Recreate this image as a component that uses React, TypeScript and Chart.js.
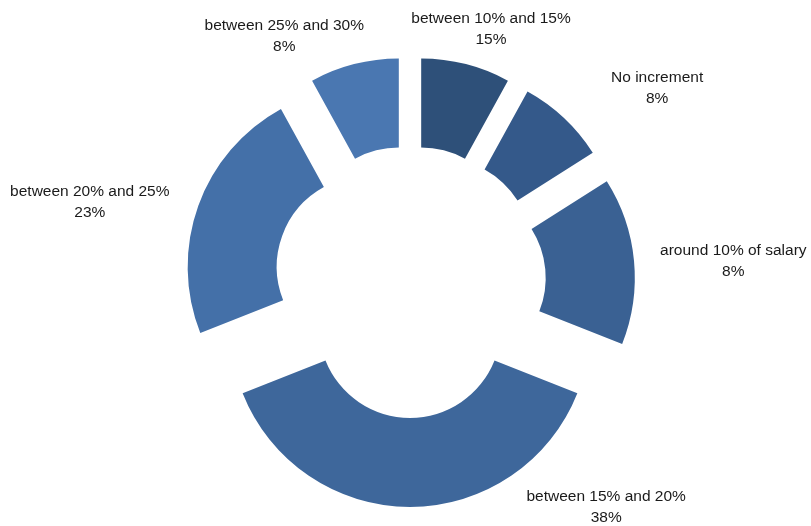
import React, { useEffect, useRef } from "react";
import { Chart, registerables } from "chart.js";

Chart.register(...registerables);

// Categories in clockwise order starting at 12 o'clock
const categories = [
  "between 10% and 15%",
  "No increment",
  "around 10% of salary",
  "between 15% and 20%",
  "between 20% and 25%",
  "between 25% and 30%",
];
// Slice sizes
const sliceValues = [8, 8, 15, 38, 23, 8];
// Percent text shown in each data label
const shownPercents = ["15%", "8%", "8%", "38%", "23%", "8%"];

const colors = ["#2E5079", "#34598A", "#3A6193", "#3E679B", "#4470A8", "#4A77B1"];

// Label anchors (angle clockwise from top in degrees, distance from the chart centre)
const labelPolar: [number, number][] = [
  [17.8, 265],
  [51.9, 314],
  [86.3, 324],
  [139, 299],
  [284, 330],
  [332.9, 276],
];

const EXPLODE = 45;

const explodePlugin = {
  id: "explode",
  beforeDatasetDraw(chart: any, args: any) {
    const ctx = chart.ctx;
    args.meta.data.forEach((arc: any) => {
      const mid = (arc.startAngle + arc.endAngle) / 2;
      ctx.save();
      ctx.translate(Math.cos(mid) * EXPLODE, Math.sin(mid) * EXPLODE);
      arc.draw(ctx);
      ctx.restore();
    });
    return false;
  },
};

const labelPlugin = {
  id: "sliceLabels",
  afterDatasetsDraw(chart: any) {
    const ctx = chart.ctx;
    const arc0 = chart.getDatasetMeta(0).data[0];
    const cx = arc0.x;
    const cy = arc0.y;
    ctx.save();
    ctx.font = '15.5px "Liberation Sans", Arial, sans-serif';
    ctx.fillStyle = "#1a1a1a";
    ctx.textAlign = "center";
    ctx.textBaseline = "middle";
    categories.forEach((c, i) => {
      const [deg, dist] = labelPolar[i];
      const a = (deg * Math.PI) / 180;
      const x = cx + Math.sin(a) * dist;
      const y = cy - Math.cos(a) * dist;
      ctx.fillText(c, x, y - 10.5);
      ctx.fillText(shownPercents[i], x, y + 10.5);
    });
    ctx.restore();
  },
};

export default function App() {
  const ref = useRef<HTMLCanvasElement | null>(null);
  useEffect(() => {
    if (!ref.current) return;
    const chart = new Chart(ref.current, {
      type: "doughnut",
      data: {
        labels: categories,
        datasets: [
          {
            data: sliceValues,
            backgroundColor: colors,
            borderWidth: 0,
          },
        ],
      },
      options: {
        animation: false,
        responsive: true,
        maintainAspectRatio: false,
        radius: 180,
        cutout: "50.5%",
        layout: { padding: { left: 9, right: 0, top: 38, bottom: 0 } },
        plugins: {
          legend: { display: false },
          tooltip: { enabled: false },
        },
      } as any,
      plugins: [explodePlugin, labelPlugin],
    });
    return () => chart.destroy();
  }, []);
  return (
    <div style={{ position: "absolute", left: 0, top: 0, width: 811, height: 526, background: "#fff" }}>
      <canvas ref={ref} />
    </div>
  );
}
